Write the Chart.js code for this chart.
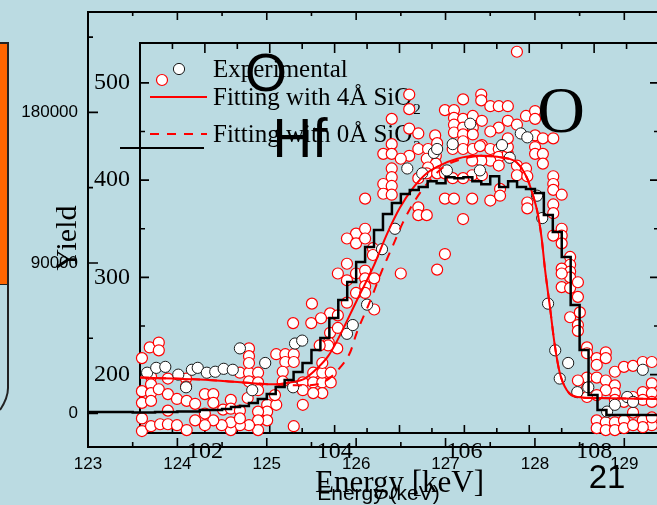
<!DOCTYPE html>
<html>
<head>
<meta charset="utf-8">
<script src="https://cdn.jsdelivr.net/npm/chart.js@4.4.1/dist/chart.umd.min.js"></script>
<style>
  html, body { margin: 0; padding: 0; overflow: hidden; background: #bbdbe2; width: 657px; height: 505px; }
  #stage { position: relative; width: 657px; height: 505px; overflow: hidden; }
  canvas { position: absolute; left: 0; top: 0; }
  .tag { position: absolute; white-space: nowrap; line-height: 1; color: #000; transform: translate(-50%, -50%); }
  .sans { font-family: "Liberation Sans", Arial, sans-serif; }
  .serif { font-family: "Liberation Serif", "Times New Roman", serif; }
  #panel { position: absolute; left: -4px; top: 42px; width: 9px; height: 240px; background: #ff6600;
           border: 2px solid #222; border-bottom-width: 1px; }
</style>
</head>
<body>
<div id="stage">
  <div id="panel"></div>
  <svg width="20" height="505" style="position:absolute;left:0;top:0">
    <path d="M8,284 L8,388 Q8,398 0,410" stroke="#222" stroke-width="2" fill="none"/>
  </svg>
  <canvas id="spectrum" width="700" height="505"></canvas>
  <canvas id="histogram" width="700" height="505"></canvas>
  <div class="tag sans" style="left:266px;top:72px;font-size:54px;">O</div>
  <div class="tag sans" style="left:300px;top:138px;font-size:55px;">Hf</div>
  <div class="tag serif" style="left:561px;top:110px;font-size:66px;">O</div>
  <div class="tag sans" style="left:607px;top:476px;font-size:33px;">21</div>
</div>
<script>
// ---- tick labels ----
const histXLabels = [123, 124, 125, 126, 127, 128, 129];
const histYLabels = [0, 90000, 180000];
const specXLabels = [102, 104, 106, 108];
const specYLabels = [200, 300, 400, 500];

// ---- simulated channel histogram (Energy in keV, counts) ----
const histEnergy = [123.0,123.25,123.5,123.75,124.0,124.25,124.5,
  124.6,124.7,124.8,124.9,125.0,125.1,125.2,125.3,125.4,125.5,125.6,125.7,125.8,125.9,
  126.0,126.1,126.2,126.3,126.4,126.5,126.6,126.7,126.8,126.9,127.0,127.1,127.2,127.3,
  127.4,127.5,127.6,127.7,127.8,127.9,128.0,128.1,128.2,128.3,128.4,128.5,128.6,128.7,
  128.8,129.0,129.5];
const histCounts = [900,900,600,900,1200,2100,2700,
  3900,4500,6300,8700,11700,15800,20000,24800,30200,38000,45100,57100,67800,78600,
  90600,99500,109700,119200,125800,131200,133600,135400,138900,137700,141300,140700,141300,138900,
  137100,141900,135400,138900,135400,134200,131800,118600,108500,93500,64800,38000,11100,2100,
  -900,-900,-900];

// ---- fits: [energy keV, yield] ----
const fit4A = [[101.0,197],[101.92,195],[102.59,192],[103.03,190],[103.31,192],[103.54,196],
  [103.74,207],[103.90,219],[104.04,235],[104.34,276],[104.59,310],[104.81,345],[105.01,372],
  [105.21,392],[105.42,407],[105.62,415],[105.89,422],[106.19,425],[106.59,423],[106.81,418],
  [106.96,403],[107.05,386],[107.13,366],[107.19,341],[107.24,310],[107.32,269],[107.39,232],
  [107.47,202],[107.58,184],[107.74,177],[108.04,176],[109.0,175]];
const fit0A = [[101.0,197],[101.92,195],[102.59,192],[103.03,190],[103.54,189],[103.85,193],
  [104.08,207],[104.24,223],[104.34,243],[104.55,276],[104.73,307],[104.90,333],[105.05,356],
  [105.21,376],[105.42,396],[105.67,413],[105.98,422],[106.29,425],[106.60,423],[106.81,418],
  [106.96,403],[107.05,386],[107.13,366],[107.19,341],[107.24,310],[107.32,269],[107.39,232],
  [107.47,202],[107.58,184],[107.74,177],[108.04,176],[109.0,175]];

// ---- experimental points, red-edged set ----
const expRed = [
  [106.95,552],[106.81,532],[105.15,488],[105.15,473],[104.88,463],[105.15,453],[105.29,448],
  [104.88,437],[104.75,427],[104.88,427],[105.15,425],[105.29,432],[105.44,432],[105.55,446],
  [105.56,425],[105.42,422],[105.56,417],[105.44,413],[105.02,422],[104.88,412],[104.88,403],
  [104.75,396],[104.88,394],[104.75,386],[104.88,385],[105.29,402],[105.42,407],[105.58,407],
  [105.70,407],[105.29,372],[105.29,364],[105.42,364],[105.70,381],[105.84,381],[106.12,381],
  [106.40,379],[105.98,360],[105.70,324],[105.58,308],[105.02,304],[104.47,381],
  [105.98,483],[106.26,488],[106.26,482],[106.40,476],[106.53,476],[106.67,476],[105.70,472],
  [105.84,472],[105.84,464],[105.98,463],[106.13,466],[106.27,461],[105.84,457],[105.84,449],
  [105.98,454],[105.98,447],[106.13,454],[106.13,447],[105.98,440],[105.82,432],[105.98,432],
  [106.13,432],[106.27,436],[106.40,432],[106.53,432],[106.53,424],[106.67,427],[106.67,434],
  [106.67,443],[106.53,454],[106.40,450],[106.67,461],[106.81,457],[106.95,466],[107.09,471],
  [107.09,463],[107.09,446],[107.21,443],[107.37,443],[107.09,434],[107.09,427],[107.21,427],
  [107.21,417],[106.40,420],[106.26,420],[106.81,415],[106.95,412],[106.53,415],[106.12,420],
  [106.24,435],[105.58,438],[106.12,405],[106.27,405],[105.82,402],[105.98,402],[106.81,405],
  [106.97,404],[106.55,391],[106.55,384],[106.97,377],[106.97,371],[107.37,404],[107.37,396],
  [107.37,390],[107.50,385],[107.37,375],[107.37,366],
  [104.33,345],[104.19,340],[104.33,335],[104.47,350],[104.47,340],[104.59,330],[104.59,323],
  [104.19,314],[104.05,304],[104.19,297],[104.33,304],[104.47,307],[104.47,299],[104.61,299],
  [104.47,291],[104.33,284],[104.47,284],[104.19,274],[104.61,267],[103.93,263],[103.79,258],
  [104.05,261],[103.64,253],[103.36,253],[103.65,273],[103.93,243],[104.05,248],[103.91,233],
  [104.04,227],[103.90,230],[103.77,230],
  [103.10,221],[103.24,221],[103.37,221],[103.24,213],[103.37,213],[102.54,202],[102.68,202],
  [102.82,202],[102.68,193],[102.82,192],[102.82,184],[102.96,169],[103.10,169],[102.96,162],
  [102.96,153],[102.82,162],[102.82,153],[102.82,143],[102.68,148],[102.54,148],[102.40,143],
  [102.40,151],[102.26,148],[102.13,153],[102.00,148],[103.37,147],[103.51,169],[103.51,192],
  [103.51,184],[103.67,202],[103.67,192],[103.81,192],[103.81,202],[103.81,212],[103.94,202],
  [103.94,192],[103.81,181],[103.67,181],[103.20,203],[103.20,193],[102.68,227],[102.68,219],
  [102.68,212],
  [101.15,228],[101.29,233],[101.29,225],[100.89,217],[101.03,217],[100.34,202],[100.61,202],
  [100.75,202],[100.21,195],[100.34,190],[100.74,191],[100.88,191],[101.17,198],[101.17,190],
  [101.43,196],[101.71,196],[101.71,188],[100.21,174],[100.34,181],[100.46,177],[100.60,174],
  [100.74,181],[100.88,174],[101.03,183],[101.03,171],[101.17,181],[101.17,173],[101.29,185],
  [101.43,180],[101.57,175],[101.72,173],[101.85,170],[102.00,180],[102.13,180],[102.13,171],
  [102.40,174],[100.34,164],[100.46,162],[100.60,153],[100.74,153],[100.88,153],[101.03,155],
  [101.43,163],[102.28,164],[102.40,165],[102.54,163],[102.54,155],[101.85,153],[102.00,160],
  [100.34,142],[100.48,142],[100.61,147],[101.03,142],[101.17,147],[101.31,149],[101.43,149],
  [101.57,148],[101.72,143],[103.08,179],[102.66,176],
  [107.50,350],[107.50,343],[107.37,343],[107.50,335],[107.63,321],[107.63,313],[107.50,309],
  [107.63,306],[107.63,300],[107.50,290],[107.63,289],[107.75,295],[107.75,280],[107.63,259],
  [107.75,251],[107.75,245],[107.50,304],[107.78,264],[107.89,228],[107.89,222],[108.04,217],
  [108.18,223],[108.18,217],[108.04,210],[107.89,197],[108.04,197],[108.18,194],[108.32,203],
  [108.46,208],[108.60,209],[108.75,213],[108.89,213],[108.32,189],[108.32,181],[108.32,174],
  [108.18,184],[108.04,179],[108.46,172],[108.60,177],[108.75,182],[108.89,191],[108.89,181],
  [108.75,174],[108.89,172],[108.04,153],[108.18,151],[108.32,151],[108.46,153],[108.60,161],
  [108.75,153],[108.89,148],[108.04,145],[108.18,143],[108.32,143],[108.46,145],[108.75,146],
  [108.89,156],[107.89,186],[107.89,177],[108.60,148],[107.75,194]
];

// ---- experimental points, open black-edged set ----
const expOpen = [
  [101.11,202],[101.25,207],[101.39,208],[101.59,200],[101.80,205],[101.89,207],[102.03,202],
  [102.16,203],[102.29,206],[102.43,205],[102.54,227],[102.93,212],[102.73,184],[103.39,232],
  [103.36,187],[101.71,187],[103.50,235],[104.19,242],[104.28,251],[104.50,272],[104.73,329],
  [104.93,350],[105.12,412],[105.35,407],[105.53,428],[105.73,410],[105.82,437],[106.09,458],
  [106.24,410],[106.87,448],[106.70,423],[106.97,444],[107.12,384],[107.20,361],[107.29,273],
  [107.40,225],[107.60,212],[107.47,196],[107.74,182],[107.91,187],[108.20,162],[108.51,177],
  [108.60,172],[108.75,205],[108.32,169],[105.58,432],[106.58,436]
];

const SERIF = '"Liberation Serif", "Times New Roman", serif';
const SANS = '"Liberation Sans", Arial, sans-serif';
Chart.defaults.color = '#000';

const pts = arr => arr.map(([x, y]) => ({ x, y }));

// evenly spaced axis tick positions (labels are chosen from the label arrays)
function tickRun(from, to, step) {
  const out = [];
  const n = Math.round((to - from) / step);
  for (let i = 0; i <= n; i++) out.push({ value: Math.round((from + i * step) * 1000) / 1000 });
  return out;
}

// fixed axis box size, no extra label overhang padding
const fixWidth = w => s => { s.width = w; s.paddingTop = 0; s.paddingBottom = 0; };
const fixHeight = h => s => { s.height = h; s.paddingLeft = 0; s.paddingRight = 0; };

// Closed frame with inward-pointing tick marks on all four sides
function frameTicks(spec) {
  return {
    id: 'frameTicks',
    beforeDatasetsDraw(chart) {
      const { ctx, chartArea: a } = chart;
      const sx = chart.scales.x, sy = chart.scales.y;
      ctx.save();
      ctx.strokeStyle = '#000';
      ctx.lineWidth = spec.lineWidth;
      ctx.beginPath();
      ctx.moveTo(a.left, a.top);
      ctx.lineTo(a.right, a.top);
      ctx.lineTo(a.right, a.bottom);
      ctx.stroke();
      ctx.lineWidth = spec.tickWidth;
      ctx.beginPath();
      sx.ticks.forEach(({ value }) => {
        if (value <= sx.min || value >= sx.max) return;
        const p = sx.getPixelForValue(value);
        const k = spec.xMajor(value) ? 0 : 1;
        ctx.moveTo(p, a.top); ctx.lineTo(p, a.top + spec.top[k]);
        ctx.moveTo(p, a.bottom); ctx.lineTo(p, a.bottom - spec.bottom[k]);
      });
      sy.ticks.forEach(({ value }) => {
        if (value <= sy.min || value >= sy.max) return;
        const p = sy.getPixelForValue(value);
        const k = spec.yMajor(value) ? 0 : 1;
        ctx.moveTo(a.left, p); ctx.lineTo(a.left + spec.left[k], p);
        ctx.moveTo(a.right, p); ctx.lineTo(a.right - spec.right[k], p);
      });
      ctx.stroke();
      ctx.restore();
    }
  };
}

// Legend block in the upper-left of the spectrum panel
const legendBlock = {
  id: 'legendBlock',
  beforeDatasetsDraw(chart) {
    const { ctx, chartArea: a } = chart;
    const ds = chart.data.datasets;
    const x0 = a.left, y0 = a.top;
    ctx.save();
    const dot = (cx, cy, d) => {
      ctx.beginPath();
      ctx.arc(cx, cy, d.pointRadius, 0, Math.PI * 2);
      ctx.fillStyle = d.pointBackgroundColor;
      ctx.fill();
      ctx.lineWidth = d.pointBorderWidth;
      ctx.strokeStyle = d.pointBorderColor;
      ctx.stroke();
    };
    dot(x0 + 39, y0 + 26, ds[2]);
    dot(x0 + 22, y0 + 37, ds[3]);
    ctx.lineWidth = ds[0].borderWidth;
    ctx.strokeStyle = ds[0].borderColor;
    ctx.beginPath(); ctx.moveTo(x0 + 10, y0 + 54); ctx.lineTo(x0 + 67, y0 + 54); ctx.stroke();
    ctx.setLineDash(ds[1].borderDash);
    ctx.strokeStyle = ds[1].borderColor;
    ctx.beginPath(); ctx.moveTo(x0 + 10, y0 + 91); ctx.lineTo(x0 + 67, y0 + 91); ctx.stroke();
    ctx.setLineDash([]);
    ctx.strokeStyle = '#000';
    ctx.lineWidth = 2;
    ctx.beginPath(); ctx.moveTo(x0 - 20, y0 + 105); ctx.lineTo(x0 + 64, y0 + 105); ctx.stroke();

    ctx.fillStyle = '#000';
    ctx.textBaseline = 'alphabetic';
    ctx.textAlign = 'left';
    const big = '25px ' + SERIF, small = '15px ' + SERIF;
    ctx.font = big;
    ctx.fillText(ds[2].label, x0 + 73, y0 + 34);
    const rows = [[ds[0].label, y0 + 62], [ds[1].label, y0 + 99]];
    rows.forEach(([txt, yb]) => {
      const main = txt.slice(0, -1), sub = txt.slice(-1);
      ctx.font = big;
      ctx.fillText(main, x0 + 73, yb);
      const w = ctx.measureText(main).width;
      ctx.font = small;
      ctx.fillText(sub, x0 + 74 + w, yb + 9);
    });
    ctx.restore();
  }
};

// ---- spectrum panel: experimental points and fits ----
new Chart(document.getElementById('spectrum'), {
  type: 'line',
  data: {
    datasets: [
      { label: 'Fitting with 4Å SiO2', data: pts(fit4A), borderColor: '#ff0000', borderWidth: 2,
        pointRadius: 0, fill: false, cubicInterpolationMode: 'monotone', clip: false, order: 1 },
      { label: 'Fitting with 0Å SiO2', data: pts(fit0A), borderColor: '#ff0000', borderWidth: 2,
        borderDash: [9, 8], pointRadius: 0, fill: false, cubicInterpolationMode: 'monotone', clip: false, order: 2 },
      { label: 'Experimental', data: pts(expOpen), showLine: false, pointRadius: 5.6,
        pointBackgroundColor: '#ffffff', pointBorderColor: '#1a1a1a', pointBorderWidth: 1,
        clip: false, order: 3 },
      { label: 'Experimental', data: pts(expRed), showLine: false, pointRadius: 5.5,
        pointBackgroundColor: '#ffffff', pointBorderColor: '#ff0000', pointBorderWidth: 1.2,
        clip: false, order: 4 }
    ]
  },
  options: {
    responsive: false,
    animation: false,
    devicePixelRatio: 1,
    events: [],
    layout: { padding: { top: 43, right: 41, left: 0, bottom: 0 } },
    plugins: { legend: { display: false }, tooltip: { enabled: false } },
    scales: {
      x: {
        type: 'linear', min: 101, max: 109,
        afterFit: fixHeight(72),
        afterBuildTicks(s) { s.ticks = tickRun(101, 109, 0.5); },
        grid: { display: false, drawTicks: false },
        border: { display: true, color: '#000', width: 2 },
        ticks: {
          autoSkip: false, maxRotation: 0, padding: 4,
          font: { family: SERIF, size: 24 }, color: '#000',
          callback: v => specXLabels.includes(v) ? String(v) : ''
        },
        title: { display: true, text: 'Energy [keV]', color: '#000',
                 font: { family: SERIF, size: 31 }, padding: { top: 0, bottom: 3 } }
      },
      y: {
        type: 'linear', min: 140, max: 541,
        afterFit: fixWidth(140),
        afterBuildTicks(s) { s.ticks = tickRun(150, 500, 50); },
        grid: { display: false, drawTicks: false },
        border: { display: true, color: '#000', width: 2 },
        ticks: {
          autoSkip: false, padding: 10,
          font: { family: SERIF, size: 24 }, color: '#000',
          callback: v => specYLabels.includes(v) ? String(v) : ''
        },
        title: { display: true, text: 'Yield', color: '#000',
                 font: { family: SERIF, size: 30 }, padding: { top: 50, bottom: 0 } }
      }
    }
  },
  plugins: [
    frameTicks({ lineWidth: 2, tickWidth: 1.6, top: [10, 6], bottom: [8, 5], left: [9, 5], right: [9, 5],
                 xMajor: v => Number.isInteger(v), yMajor: v => v % 100 === 0 }),
    legendBlock
  ]
});

// ---- channel histogram panel ----
new Chart(document.getElementById('histogram'), {
  type: 'line',
  data: {
    datasets: [
      { label: 'Simulation', data: histEnergy.map((e, i) => ({ x: e, y: histCounts[i] })),
        borderColor: '#000', borderWidth: 2.5, pointRadius: 0, fill: false, stepped: 'before' }
    ]
  },
  options: {
    responsive: false,
    animation: false,
    devicePixelRatio: 1,
    events: [],
    layout: { padding: { top: 12, right: 31, left: 0, bottom: 0 } },
    plugins: { legend: { display: false }, tooltip: { enabled: false } },
    scales: {
      x: {
        type: 'linear', min: 123, max: 129.5,
        afterFit: fixHeight(58),
        afterBuildTicks(s) { s.ticks = tickRun(123, 129.5, 0.5); },
        grid: { display: false, drawTicks: false },
        border: { display: true, color: '#000', width: 2 },
        ticks: {
          autoSkip: false, maxRotation: 0, padding: 7,
          font: { family: SANS, size: 17 }, color: '#000',
          callback: v => histXLabels.includes(v) ? String(v) : ''
        },
        title: { display: true, text: 'Energy (keV)', color: '#000',
                 font: { family: SANS, size: 21 }, padding: { top: 0, bottom: -2 } }
      },
      y: {
        type: 'linear', min: -20000, max: 240000,
        afterFit: fixWidth(88),
        afterBuildTicks(s) { s.ticks = tickRun(0, 225000, 45000); },
        grid: { display: false, drawTicks: false },
        border: { display: true, color: '#000', width: 2 },
        ticks: {
          autoSkip: false, padding: 10,
          font: { family: SANS, size: 17 }, color: '#000',
          callback: v => histYLabels.includes(v) ? String(v) : ''
        }
      }
    }
  },
  plugins: [
    frameTicks({ lineWidth: 2, tickWidth: 1.6, top: [8, 4], bottom: [9, 5], left: [10, 5], right: [10, 5],
                 xMajor: v => Number.isInteger(v), yMajor: v => histYLabels.includes(v) })
  ]
});
</script>
</body>
</html>
